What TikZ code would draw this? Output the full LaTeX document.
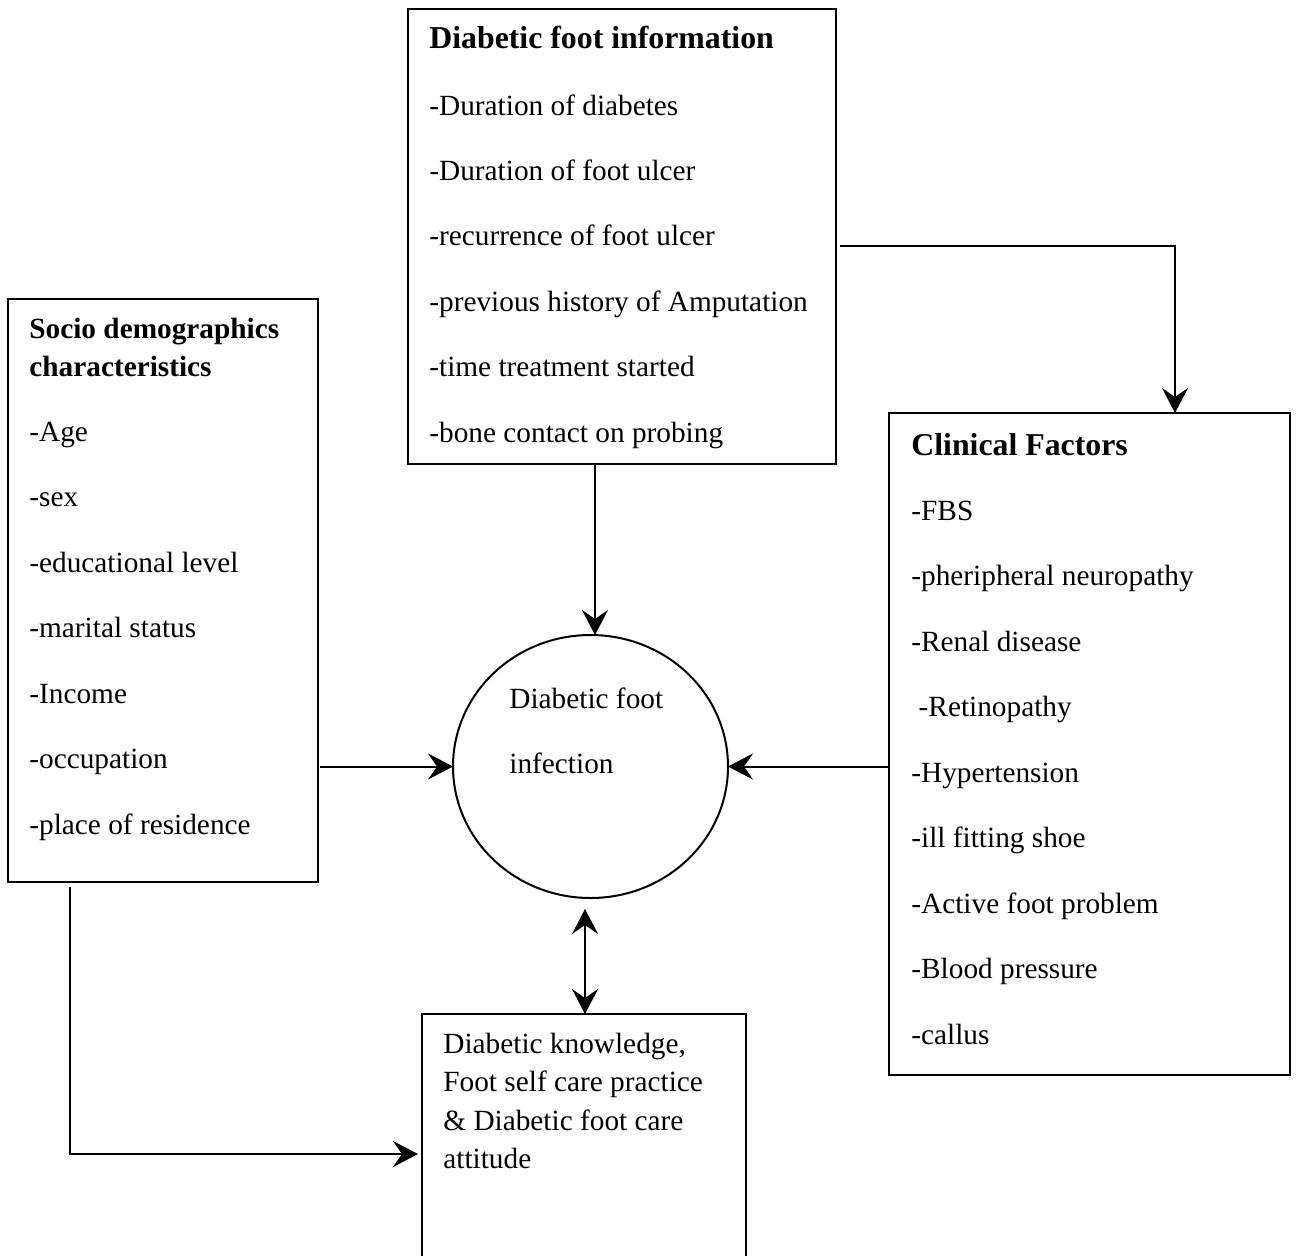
\documentclass[tikz,border=0pt]{standalone}
\usepackage{fontspec}
\setmainfont{Liberation Serif}
\usetikzlibrary{arrows.meta,shapes.geometric}
\begin{document}
\begin{tikzpicture}[x=0.5pt,y=-0.5pt,
  box/.style={draw, line width=1pt, rectangle, inner sep=0pt, outer sep=0pt, anchor=north west},
  txt/.style={anchor=base west, inner sep=0pt, font=\fontsize{14.65pt}{17pt}\selectfont},
  hdbig/.style={anchor=base west, inner sep=0pt, font=\fontsize{15.9pt}{18pt}\selectfont\bfseries},
  hd/.style={anchor=base west, inner sep=0pt, font=\fontsize{14.65pt}{17pt}\selectfont\bfseries},
  tip/.tip={Stealth[length=12.5pt,width=13pt,inset=4.5pt]},
  arr/.style={line width=1pt, -tip},
  arrb/.style={line width=1pt, tip-tip}]
\useasboundingbox (0,0) rectangle (1296,1255);
% boxes
\node[box, minimum width=214pt, minimum height=227.5pt] (info) at (408,9) {};
\node[box, minimum width=155pt, minimum height=291.5pt] (socio) at (8,299) {};
\node[box, minimum width=200.5pt, minimum height=331pt] (clin) at (889,413) {};
\node[box, minimum width=162pt, minimum height=124pt] (know) at (422,1014) {};
\node[draw, line width=1pt, ellipse, inner sep=0pt, outer sep=0pt,
      minimum width=137.5pt, minimum height=131.5pt] (infect) at (590.5,766.5) {};
% texts: top box
\node[hdbig] (infoT) at (429,48) {Diabetic foot information};
\foreach \t [count=\i] in {-Duration of diabetes,-Duration of foot ulcer,-recurrence of foot ulcer,-previous history of Amputation,-time treatment started,-bone contact on probing}
  \node[txt] (info\i) at (429,{115+65.4*(\i-1)}) {\t};
% left box
\node[hd] (socioT1) at (29,338) {Socio demographics};
\node[hd] (socioT2) at (29,376) {characteristics};
\foreach \t [count=\i] in {-Age,-sex,-educational level,-marital status,-Income,-occupation,-place of residence}
  \node[txt] (socio\i) at (29,{441+65.5*(\i-1)}) {\t};
% right box
\node[hdbig] (clinT) at (911,455) {Clinical Factors};
\foreach \t [count=\i] in {-FBS,-pheripheral neuropathy,-Renal disease,{\hspace{0.25em}-Retinopathy},-Hypertension,-ill fitting shoe,-Active foot problem,-Blood pressure,-callus}
  \node[txt] (clin\i) at (911,{520+65.5*(\i-1)}) {\t};
% circle text
\node[txt] (inf1) at (509,708) {Diabetic foot};
\node[txt] (inf2) at (509,773) {infection};
% bottom box text
\node[txt] (know1) at (443,1053) {Diabetic knowledge,};
\node[txt] (know2) at (443,1091) {Foot self care practice};
\node[txt] (know3) at (443,1130) {\& Diabetic foot care};
\node[txt] (know4) at (443,1168) {attitude};
% helper coordinates
\coordinate (kx1) at (595,0);
\coordinate (kbend) at (1175,246);
\coordinate (kx3) at (585,0);
\coordinate (s4) at (70,887);
\coordinate (kbend2) at (70,1154);
\coordinate (e5) at (0,909);
% connectors
\draw[arr] (info.south -| kx1) -- (infect.north -| kx1);
\draw[arr] ([xshift=2pt]info.east |- kbend) -- (kbend) -- (clin.north -| kbend);
\draw[arr] ([xshift=1pt]socio.east |- infect.west) -- (infect.west);
\draw[arr] (clin.west |- infect.east) -- (infect.east);
\draw[arrb] (e5 -| kx3) -- (know.north -| kx3);
\draw[arr, shorten >=2pt] (s4) -- (kbend2) -- (know.west |- kbend2);
\end{tikzpicture}
\end{document}
